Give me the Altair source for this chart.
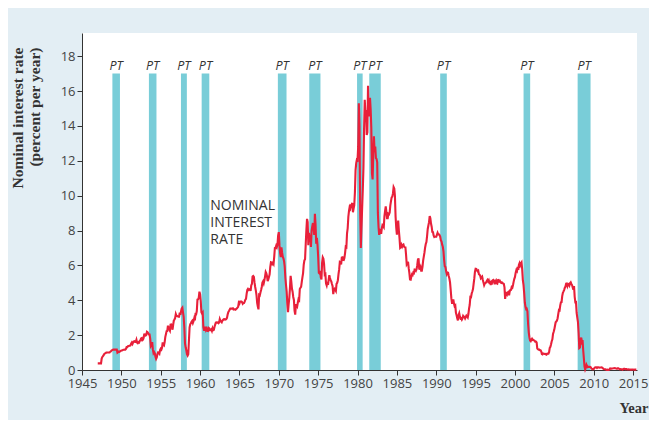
import altair as alt
import pandas as pd

# ---------------- data ----------------
START_YEAR = 1947  # monthly values from January 1947

rates_1947_1949 = [
    0.38, 0.38, 0.38, 0.38, 0.38, 0.38, 0.66, 0.75, 0.80, 0.85, 0.92, 0.95,
    0.97, 1.00, 1.00, 1.00, 1.00, 1.00, 1.00, 1.05, 1.07, 1.12, 1.14, 1.16,
    1.17, 1.17, 1.17, 1.17, 1.17, 1.17, 0.99, 1.02, 1.06, 1.04, 1.07, 1.10,
]
rates_1950s = [
    1.12, 1.12, 1.14, 1.16, 1.16, 1.17, 1.17, 1.21, 1.31, 1.31, 1.36, 1.37,
    1.39, 1.39, 1.42, 1.52, 1.58, 1.50, 1.59, 1.64, 1.65, 1.61, 1.61, 1.73,
    1.57, 1.54, 1.59, 1.57, 1.67, 1.70, 1.81, 1.83, 1.71, 1.74, 1.85, 2.09,
    1.96, 1.97, 2.01, 2.19, 2.16, 2.11, 2.04, 2.04, 1.79, 1.38, 1.44, 1.60,
    1.18, 0.97, 1.03, 0.96, 0.76, 0.64, 0.72, 0.92, 1.01, 0.98, 0.93, 1.14,
    1.22, 1.17, 1.28, 1.59, 1.45, 1.41, 1.60, 1.90, 2.07, 2.23, 2.24, 2.54,
    2.41, 2.32, 2.25, 2.60, 2.61, 2.49, 2.31, 2.60, 2.84, 2.90, 2.99, 3.21,
    3.11, 3.10, 3.08, 3.06, 3.06, 3.29, 3.16, 3.37, 3.53, 3.58, 3.29, 3.04,
    2.44, 1.53, 1.30, 1.13, 0.91, 0.83, 0.91, 1.69, 2.44, 2.63, 2.67, 2.77,
    2.82, 2.70, 2.80, 2.95, 2.84, 3.21, 3.20, 3.38, 4.04, 4.05, 4.15, 4.49,
]
rates_1960s = [
    4.35, 3.96, 3.31, 3.23, 3.29, 2.46, 2.30, 2.30, 2.48, 2.30, 2.37, 2.25,
    2.24, 2.42, 2.39, 2.29, 2.29, 2.33, 2.24, 2.39, 2.28, 2.30, 2.48, 2.60,
    2.72, 2.73, 2.72, 2.73, 2.69, 2.73, 2.92, 2.82, 2.78, 2.74, 2.83, 2.87,
    2.91, 2.92, 2.89, 2.90, 2.93, 2.99, 3.18, 3.32, 3.38, 3.45, 3.52, 3.52,
    3.52, 3.53, 3.54, 3.47, 3.48, 3.48, 3.46, 3.50, 3.53, 3.58, 3.62, 3.86,
    3.81, 3.93, 3.93, 3.93, 3.89, 3.80, 3.84, 3.84, 3.92, 4.03, 4.08, 4.38,
    4.59, 4.65, 4.59, 4.62, 4.64, 4.54, 4.86, 4.93, 5.36, 5.39, 5.34, 5.01,
    4.76, 4.55, 4.29, 3.85, 3.64, 3.48, 4.31, 4.28, 4.45, 4.59, 4.76, 5.01,
    5.08, 4.97, 5.14, 5.36, 5.62, 5.54, 5.38, 5.10, 5.20, 5.33, 5.49, 5.92,
    6.18, 6.16, 6.08, 6.15, 6.08, 6.49, 7.00, 7.01, 7.13, 7.04, 7.19, 7.72,
]
rates_1970s = [
    7.91, 7.16, 6.71, 6.48, 7.04, 6.74, 6.50, 6.41, 6.24, 5.93, 5.29, 4.86,
    4.49, 3.77, 3.32, 3.78, 4.14, 4.70, 5.40, 5.08, 4.67, 4.49, 4.19, 4.02,
    3.40, 3.18, 3.72, 3.72, 3.65, 3.87, 4.06, 4.01, 4.65, 4.72, 4.77, 5.06,
    5.31, 5.56, 6.05, 6.29, 6.35, 7.19, 8.02, 8.67, 8.48, 7.16, 7.87, 7.36,
    7.76, 7.06, 7.99, 8.23, 8.43, 8.14, 7.75, 8.96, 8.36, 7.24, 7.58, 7.18,
    6.49, 5.58, 5.54, 5.69, 5.32, 5.19, 6.16, 6.46, 6.38, 6.08, 5.47, 5.50,
    4.96, 4.85, 5.05, 4.88, 5.18, 5.44, 5.28, 5.15, 5.08, 4.93, 4.81, 4.35,
    4.60, 4.66, 4.61, 4.54, 4.94, 5.00, 5.15, 5.50, 5.77, 6.19, 6.16, 6.06,
    6.45, 6.46, 6.32, 6.31, 6.43, 6.71, 7.07, 7.04, 7.84, 8.13, 8.79, 9.12,
    9.35, 9.27, 9.46, 9.49, 9.58, 9.05, 9.26, 9.45, 10.18, 11.47, 11.87, 12.07,
]
rates_1980s = [
    12.04, 12.81, 15.30, 14.00, 9.15, 7.00, 8.13, 9.26, 10.32, 11.58, 13.89, 15.50,
    14.72, 14.91, 13.48, 13.63, 16.30, 14.56, 14.70, 15.61, 14.95, 13.87, 11.27, 10.93,
    12.41, 13.40, 12.49, 12.82, 12.15, 12.11, 11.91, 9.01, 8.20, 7.75, 8.04, 8.01,
    7.81, 8.13, 8.30, 8.25, 8.19, 8.82, 9.12, 9.39, 9.05, 8.71, 8.71, 8.96,
    8.93, 9.03, 9.44, 9.69, 9.90, 9.94, 10.13, 10.49, 10.41, 9.97, 8.79, 8.16,
    7.76, 8.22, 8.57, 8.00, 7.56, 7.01, 7.05, 7.18, 7.08, 7.17, 7.20, 7.07,
    7.04, 7.03, 6.59, 6.06, 6.12, 6.21, 5.84, 5.57, 5.19, 5.18, 5.35, 5.49,
    5.45, 5.59, 5.56, 5.76, 5.75, 5.69, 5.78, 6.00, 6.32, 6.40, 5.81, 5.80,
    5.90, 5.69, 5.69, 5.92, 6.27, 6.50, 6.73, 7.02, 7.23, 7.34, 7.68, 8.09,
    8.29, 8.48, 8.83, 8.70, 8.40, 8.22, 7.92, 7.91, 7.72, 7.63, 7.65, 7.64,
]
rates_1990s = [
    7.64, 7.76, 7.87, 7.78, 7.78, 7.74, 7.66, 7.44, 7.38, 7.19, 7.07, 6.81,
    6.30, 5.95, 5.91, 5.67, 5.51, 5.60, 5.58, 5.39, 5.25, 5.03, 4.60, 4.12,
    3.84, 3.84, 4.05, 3.81, 3.66, 3.70, 3.28, 3.14, 2.97, 2.84, 3.14, 3.25,
    3.06, 2.95, 2.97, 2.89, 2.96, 3.10, 3.05, 3.05, 2.96, 3.04, 3.12, 3.08,
    3.02, 3.21, 3.52, 3.74, 4.19, 4.18, 4.39, 4.50, 4.64, 4.96, 5.25, 5.64,
    5.81, 5.80, 5.73, 5.67, 5.70, 5.50, 5.47, 5.41, 5.26, 5.30, 5.35, 5.16,
    5.02, 4.87, 4.96, 4.99, 5.02, 5.11, 5.17, 5.09, 5.15, 5.01, 5.03, 4.87,
    5.05, 5.00, 5.14, 5.17, 5.13, 4.92, 5.07, 5.13, 4.97, 4.95, 5.15, 5.16,
    5.08, 5.11, 5.03, 5.00, 5.03, 4.99, 4.96, 4.94, 4.74, 4.08, 4.44, 4.42,
    4.34, 4.45, 4.48, 4.28, 4.51, 4.59, 4.60, 4.76, 4.73, 4.88, 5.07, 5.23,
]
rates_2000s = [
    5.34, 5.57, 5.72, 5.67, 5.92, 5.74, 6.03, 6.13, 6.01, 6.11, 6.17, 5.77,
    5.15, 4.88, 4.42, 3.87, 3.62, 3.49, 3.51, 3.36, 2.64, 2.16, 1.87, 1.69,
    1.65, 1.73, 1.79, 1.72, 1.73, 1.70, 1.68, 1.62, 1.63, 1.58, 1.23, 1.19,
    1.17, 1.17, 1.13, 1.13, 1.07, 0.92, 0.90, 0.95, 0.94, 0.92, 0.93, 0.90,
    0.88, 0.93, 0.94, 0.94, 1.02, 1.27, 1.33, 1.48, 1.65, 1.76, 2.07, 2.19,
    2.33, 2.54, 2.74, 2.78, 2.84, 2.97, 3.22, 3.44, 3.42, 3.71, 3.88, 3.89,
    4.24, 4.43, 4.51, 4.60, 4.72, 4.79, 4.95, 4.96, 4.81, 4.92, 4.94, 4.85,
    4.98, 5.03, 4.94, 4.87, 4.73, 4.61, 4.82, 4.20, 3.89, 3.90, 3.27, 3.00,
    2.75, 2.12, 1.26, 1.29, 1.73, 1.86, 1.63, 1.72, 1.13, 0.67, 0.19, 0.03,
    0.13, 0.30, 0.22, 0.16, 0.18, 0.18, 0.18, 0.17, 0.12, 0.07, 0.05, 0.05,
]
rates_2010s = [
    0.06, 0.11, 0.15, 0.16, 0.16, 0.12, 0.16, 0.16, 0.15, 0.13, 0.14, 0.14,
    0.15, 0.13, 0.10, 0.06, 0.04, 0.04, 0.04, 0.02, 0.01, 0.02, 0.01, 0.01,
    0.03, 0.09, 0.08, 0.08, 0.09, 0.09, 0.10, 0.10, 0.11, 0.10, 0.09, 0.07,
    0.07, 0.10, 0.09, 0.06, 0.04, 0.05, 0.04, 0.04, 0.02, 0.05, 0.07, 0.07,
    0.04, 0.05, 0.05, 0.03, 0.03, 0.04, 0.03, 0.03, 0.02, 0.02, 0.02, 0.03,
    0.03, 0.02, 0.03, 0.02, 0.02, 0.02,
]

# peak-to-trough (PT) periods, in fractional years
pt_start = [1948.86, 1953.50, 1957.57, 1960.20, 1969.88, 1973.87,
            1979.94, 1981.49, 1990.50, 2001.09, 2007.96]
pt_end = [1949.82, 1954.46, 1958.32, 1961.17, 1970.98, 1975.29,
          1980.65, 1982.95, 1991.34, 2001.93, 2009.60]
pt_top = 17
pt_label = "PT"

x_ticks = [1945, 1950, 1955, 1960, 1965, 1970, 1975, 1980, 1985, 1990,
           1995, 2000, 2005, 2010, 2015]
y_ticks = [0, 2, 4, 6, 8, 10, 12, 14, 16, 18]

label_text = "NOMINAL\nINTEREST\nRATE"
label_year = 1961.3
label_rate = 9.2

# ---------------- frames ----------------
all_rates = (rates_1947_1949 + rates_1950s + rates_1960s + rates_1970s
             + rates_1980s + rates_1990s + rates_2000s + rates_2010s)
line_df = pd.DataFrame({
    "t": [START_YEAR + i / 12 for i in range(len(all_rates))],
    "rate": all_rates,
})
pt_df = pd.DataFrame({
    "start": pt_start,
    "end": pt_end,
    "mid": [(a + b) / 2 for a, b in zip(pt_start, pt_end)],
    "lo": [0] * len(pt_start),
    "hi": [pt_top] * len(pt_start),
    "label": [pt_label] * len(pt_start),
})

# ---------------- chart ----------------
W = 555
x_scale = alt.Scale(domain=[1945, 2015.5], nice=False, zero=False)
y_scale = alt.Scale(domain=[0, 19.33], nice=False, zero=False)

x_axis = alt.Axis(
    values=x_ticks, format="d", grid=False, tickSize=5, labelPadding=2,
    labelFlush=False, labelOverlap=False, tickCount=len(x_ticks),
    title="Year", titleAnchor="end", titleAlign="right",
    titleBaseline="alphabetic", titleX=566, titleY=42,
    titleFont="Liberation Serif", titleFontSize=14.5, titleFontWeight="bold",
    titleColor="#333333",
)
y_axis = alt.Axis(
    values=y_ticks, grid=False, tickSize=5, labelPadding=2, labelOverlap=False,
    tickCount=len(y_ticks),
    title=["Nominal interest rate", "(percent per year)"],
    titleAngle=270, titleAlign="right", titleBaseline="top",
    titleX=-72, titleY=14, titleLineHeight=17,
    titleFont="Liberation Serif", titleFontSize=15.5, titleFontWeight="bold",
    titleColor="#333333",
)

bars = alt.Chart(pt_df).mark_rect(color="#79CDD8").encode(
    x=alt.X("start:Q", scale=x_scale, axis=x_axis),
    x2="end:Q",
    y=alt.Y("lo:Q", scale=y_scale, axis=y_axis),
    y2="hi:Q",
)

pt_text = alt.Chart(pt_df).mark_text(
    font="Open Sans", fontSize=12.5, fontStyle="italic", color="#333333",
    baseline="alphabetic", dy=-4,
).encode(
    x=alt.X("mid:Q", scale=x_scale, axis=x_axis),
    y=alt.Y("hi:Q", scale=y_scale, axis=y_axis),
    text="label:N",
)

line = alt.Chart(line_df).mark_line(color="#E8203A", strokeWidth=2.1).encode(
    x=alt.X("t:Q", scale=x_scale, axis=x_axis),
    y=alt.Y("rate:Q", scale=y_scale, axis=y_axis),
)

note = alt.Chart(pd.DataFrame({"t": [label_year], "rate": [label_rate],
                               "txt": [label_text]})).mark_text(
    font="Open Sans", fontSize=14, color="#333333", align="left",
    baseline="alphabetic", lineBreak="\n", lineHeight=17.4,
).encode(
    x=alt.X("t:Q", scale=x_scale, axis=x_axis),
    y=alt.Y("rate:Q", scale=y_scale, axis=y_axis),
    text="txt:N",
)

chart = alt.layer(bars, pt_text, line, note).properties(
    width=W, height=337,
    autosize=alt.AutoSizeParams(type="none"),
    padding={"left": 74, "top": 25, "right": 641 - 74 - W, "bottom": 50},
    background="#E3EEF4",
).configure_view(
    fill="white", stroke=None,
).configure_axis(
    domainColor="#333333", tickColor="#333333", labelColor="#444444",
    labelFont="Open Sans", labelFontSize=13,
)

chart.save("out.html", embed_options={"renderer": "svg", "actions": False})
